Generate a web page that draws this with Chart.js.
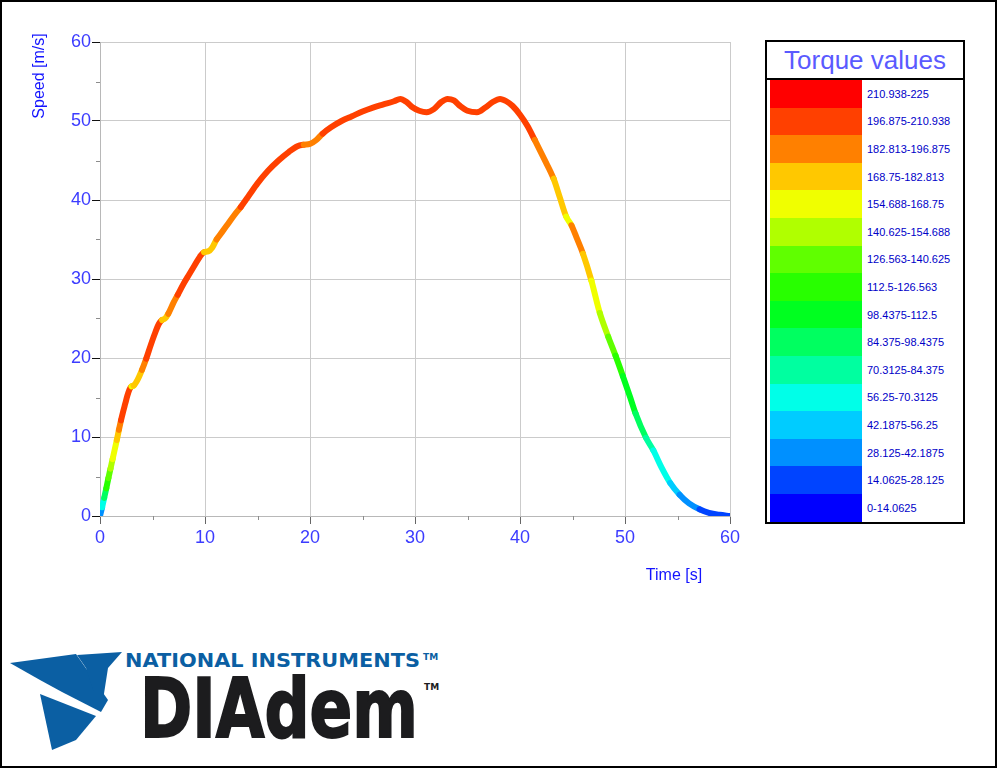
<!DOCTYPE html>
<html>
<head>
<meta charset="utf-8">
<title>Speed vs time, torque coloured</title>
<script src="https://cdn.jsdelivr.net/npm/chart.js@4.4.1/dist/chart.umd.min.js"></script>
<style>
    body { margin: 0; background: #fff; font-family: "Liberation Sans", Arial, sans-serif; }
    #page { position: relative; width: 997px; height: 768px; box-sizing: border-box; border: 2px solid #000; overflow: hidden; }
    #chart { position: absolute; left: -2px; top: -2px; }
    #legend { position: absolute; left: 763px; top: 38px; width: 200px; height: 484px; box-sizing: border-box; border: 2px solid #000; background: #fff; }
    #legend .head { height: 36px; border-bottom: 2px solid #000; color: #5a5aff; font-size: 26px; line-height: 36px; text-align: center; }
    #legend .rows { padding-left: 3px; }
    #legend .row { height: 27.6px; display: flex; align-items: center; }
    #legend .sw { width: 92px; height: 100%; }
    #legend .lab { margin-left: 5px; font-size: 11px; color: #0000c8; }
    #logo { position: absolute; left: -2px; top: 628px; }
</style>
</head>
<body>
<div id="page">
    <canvas id="chart" width="760" height="600"></canvas>
    <div id="legend">
        <div class="head">Torque values</div>
        <div class="rows" id="legendRows"></div>
    </div>
    <svg id="logo" width="450" height="125" viewBox="0 630 450 125">
        <polygon points="10,663 76,654 108,700 101,712 62,692 40,680" fill="#0b5fa3"/>
        <polygon points="40,694 96,716 76,740 52,750 46,722" fill="#0b5fa3"/>
        <polygon points="77,655 122,652 108,668 103,700 93,690 86,668" fill="#0b5fa3"/>
        <text x="125" y="667" textLength="295" lengthAdjust="spacingAndGlyphs" font-family="DejaVu Sans" font-weight="bold" font-size="19" fill="#0b5fa3">NATIONAL INSTRUMENTS</text>
        <text x="423" y="660" font-family="DejaVu Sans" font-weight="bold" font-size="9" fill="#0b5fa3">TM</text>
        <text x="140" y="737" textLength="278" lengthAdjust="spacingAndGlyphs" font-family="DejaVu Sans" font-weight="bold" font-size="82" fill="#1c1c1e" stroke="#1c1c1e" stroke-width="2">DIAdem</text>
        <text x="424" y="690" font-family="DejaVu Sans" font-weight="bold" font-size="9" fill="#1c1c1e">TM</text>
    </svg>
</div>
<script>
/* global Chart */

// time [s], speed [m/s] and torque
const timeValues = [
    0, 0.2, 0.4, 0.6, 0.8, 1.0, 1.2, 1.4, 1.6, 1.8, 2.0, 2.2, 2.4, 2.6, 2.8, 3.0, 3.2, 3.6, 4.0, 4.4,
    4.8, 5.2, 5.6, 5.9, 6.2, 6.5, 7.0, 7.4, 8.0, 8.5, 9.0, 9.5, 9.9, 10.3, 10.7, 11.1, 11.6, 12.2, 12.8, 13.4,
    14.2, 15.0, 16.0, 17.0, 18.0, 18.8, 19.4, 20.0, 20.6, 21.2, 22.0, 23.0, 24.0, 25.0, 26.0, 27.0, 28.0, 28.6, 29.2, 29.8,
    30.4, 31.1, 31.8, 32.5, 33.1, 33.7, 34.3, 35.0, 35.9, 36.7, 37.4, 38.1, 38.7, 39.3, 40.0, 40.7, 41.4, 42.3, 43.2, 43.8,
    44.4, 44.9, 45.4, 46.0, 46.8, 47.6, 48.4, 49.1, 49.8, 50.5, 51.0, 52.0, 52.7, 53.5, 54.3, 55.2, 56.1, 57.1, 58.0, 59.0, 60.0
];
const speedValues = [
    0, 1.1, 2.3, 3.5, 4.8, 6.0, 7.2, 8.4, 9.6, 10.9, 12.1, 13.2, 14.2, 15.2, 16.0, 16.4, 16.5, 17.3, 18.5, 19.9,
    21.5, 23.0, 24.3, 24.8, 25.0, 25.6, 27.0, 28.0, 29.5, 30.6, 31.7, 32.8, 33.4, 33.5, 34.0, 35.0, 35.9, 37.0, 38.1, 39.1,
    40.6, 42.1, 43.7, 45.0, 46.1, 46.8, 47.0, 47.1, 47.6, 48.4, 49.2, 50.0, 50.6, 51.2, 51.7, 52.1, 52.5, 52.8, 52.4, 51.7,
    51.3, 51.1, 51.5, 52.4, 52.8, 52.6, 51.9, 51.3, 51.1, 51.7, 52.4, 52.8, 52.5, 51.9, 50.8, 49.4, 47.6, 45.2, 42.7, 40.3,
    37.9, 36.8, 35.2, 33.2, 29.8, 25.7, 22.7, 20.3, 17.7, 15.0, 13.0, 9.9, 8.3, 6.1, 4.2, 2.7, 1.6, 0.85, 0.4, 0.15, 0
];
const torqueValues = [
    38, 62, 95, 118, 133, 148, 160, 165, 176, 188, 200, 205, 205, 205, 205, 165, 172, 180, 190, 200,
    205, 205, 205, 175, 178, 190, 192, 200, 205, 205, 205, 205, 172, 175, 178, 190, 190, 192, 195, 205,
    205, 205, 205, 205, 205, 205, 190, 190, 190, 205, 205, 205, 205, 205, 205, 205, 205, 205, 205, 205,
    205, 205, 205, 205, 205, 205, 205, 205, 205, 205, 205, 205, 205, 205, 205, 205, 190, 190, 175, 175,
    160, 190, 190, 175, 160, 150, 135, 120, 105, 105, 90, 75, 65, 65, 50, 35, 35, 20, 20, 20, 20
];

// torque bands, lowest first
const bandStep = 14.0625;
const bandLabels = [
    '0-14.0625', '14.0625-28.125', '28.125-42.1875', '42.1875-56.25', '56.25-70.3125', '70.3125-84.375',
    '84.375-98.4375', '98.4375-112.5', '112.5-126.563', '126.563-140.625', '140.625-154.688', '154.688-168.75',
    '168.75-182.813', '182.813-196.875', '196.875-210.938', '210.938-225'
];
const bandColors = [
    '#0000ff', '#0044ff', '#0090ff', '#00ccff', '#00ffe8', '#00ffa0',
    '#00ff60', '#00ff20', '#28ff00', '#60ff00', '#b0ff00', '#f0ff00',
    '#ffc800', '#ff8000', '#ff4000', '#ff0000'
];
const xTicks = [0, 10, 20, 30, 40, 50, 60];
const yTicks = [0, 10, 20, 30, 40, 50, 60];

const tickBlue = '#3c3cff';
const titleBlue = '#1414ff';

const bandColor = (torque) => {
    const idx = Math.min(bandColors.length - 1, Math.max(0, Math.floor(torque / bandStep)));
    return bandColors[idx];
};

// legend table, highest band on top
const buildLegend = () => {
    const rows = document.getElementById('legendRows');
    for (let i = bandLabels.length - 1; i >= 0; i--) {
        const row = document.createElement('div');
        row.className = 'row';
        row.innerHTML = '<div class="sw" style="background:' + bandColors[i] + '"></div>' +
            '<div class="lab">' + bandLabels[i] + '</div>';
        rows.appendChild(row);
    }
};

// axis titles and the short minor ticks
const axisExtras = {
    id: 'axisExtras',
    afterDraw(chart) {
        const ctx = chart.ctx;
        const area = chart.chartArea;
        const xs = chart.scales.x;
        const ys = chart.scales.y;

        ctx.save();
        ctx.strokeStyle = '#8c8c8c';
        ctx.lineWidth = 1;
        for (let v = 5; v < 60; v += 10) {
            const px = Math.round(xs.getPixelForValue(v)) + 0.5;
            ctx.beginPath();
            ctx.moveTo(px, area.bottom);
            ctx.lineTo(px, area.bottom + 4);
            ctx.stroke();
            const py = Math.round(ys.getPixelForValue(v)) + 0.5;
            ctx.beginPath();
            ctx.moveTo(area.left - 4, py);
            ctx.lineTo(area.left, py);
            ctx.stroke();
        }

        ctx.fillStyle = titleBlue;
        ctx.font = '16px "Liberation Sans", Arial, sans-serif';
        ctx.textAlign = 'center';
        ctx.textBaseline = 'middle';
        ctx.fillText('Time [s]', 674, 576);
        ctx.translate(40, 76);
        ctx.rotate(-Math.PI / 2);
        ctx.fillText('Speed [m/s]', 0, 0);
        ctx.restore();
    }
};

const drawChart = () => {
    'use strict';

    const points = timeValues.map((t, i) => ({ x: t, y: speedValues[i] }));
    const tickFont = { family: '"Liberation Sans", Arial, sans-serif', size: 18 };

    const chart = new Chart(document.getElementById('chart'), { // eslint-disable-line no-unused-vars
        type: 'scatter',
        data: {
            datasets: [{
                data: points,
                showLine: true,
                pointRadius: 0,
                borderWidth: 6,
                borderCapStyle: 'round',
                borderJoinStyle: 'round',
                cubicInterpolationMode: 'monotone',
                borderColor: bandColor(torqueValues[0]),
                segment: {
                    borderColor: (c) => bandColor(torqueValues[c.p0DataIndex])
                }
            }]
        },
        options: {
            responsive: false,
            animation: false,
            devicePixelRatio: 1,
            layout: { padding: { left: 0, top: 42, right: 30, bottom: 0 } },
            plugins: { legend: { display: false }, tooltip: { enabled: false } },
            scales: {
                x: {
                    type: 'linear',
                    min: 0,
                    max: 60,
                    afterBuildTicks: (s) => { s.ticks = xTicks.map(v => ({ value: v })); },
                    ticks: { color: tickBlue, font: tickFont, padding: 3, maxRotation: 0 },
                    grid: { color: '#cbcbcb', tickColor: '#666', tickLength: 8 },
                    border: { color: '#b8b8b8' },
                    afterFit: (s) => { s.height = 84; }
                },
                y: {
                    min: 0,
                    max: 60,
                    afterBuildTicks: (s) => { s.ticks = yTicks.map(v => ({ value: v })); },
                    ticks: { color: tickBlue, font: tickFont, padding: 1 },
                    grid: { color: '#cbcbcb', tickColor: '#111', tickLength: 8 },
                    border: { color: '#b8b8b8' },
                    afterFit: (s) => { s.width = 100; }
                }
            }
        },
        plugins: [axisExtras]
    });
};

buildLegend();
drawChart();
</script>
</body>
</html>
